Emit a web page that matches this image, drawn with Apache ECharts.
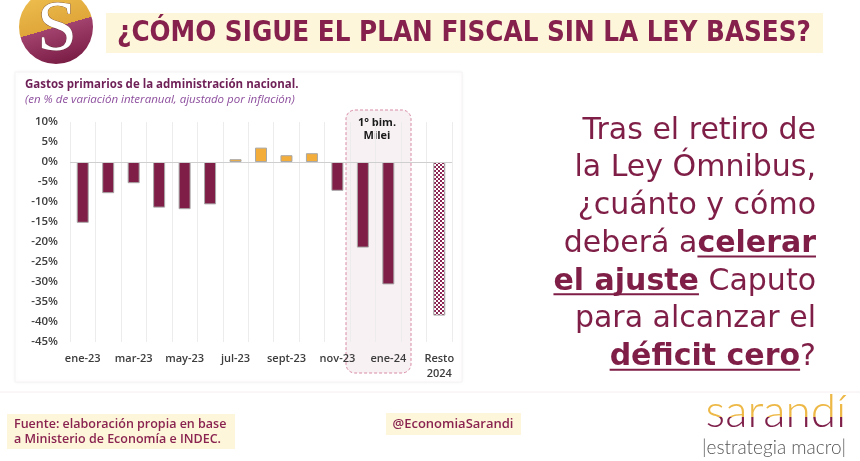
<!DOCTYPE html>
<html>
<head>
<meta charset="utf-8">
<script src="https://cdn.jsdelivr.net/npm/echarts@6/dist/echarts.min.js"></script>
<style>
  html, body { margin: 0; padding: 0; background: #fff; }
  #chart { width: 860px; height: 461px; }
</style>
</head>
<body>
<div id="chart"></div>
<script>
// datos
const categories = ['ene-23', 'feb-23', 'mar-23', 'abr-23', 'may-23', 'jun-23', 'jul-23', 'ago-23',
  'sept-23', 'oct-23', 'nov-23', 'dic-23', 'ene-24', '', 'Resto\n2024'];
const gasto = [-15.2, -7.8, -5.3, -11.4, -11.8, -10.6, 0.7, 3.6, 1.7, 2.2, -7.2, -21.4, -30.6, null, -38.4];
const projected = ['Resto\n2024'];
const yMin = -45;
const yMax = 10;
const yStep = 5;

const rightLines = [
  [['Tras el retiro de', false]],
  [['la Ley Ómnibus,', false]],
  [['¿cuánto y cómo', false]],
  [['deberá a', false], ['celerar', true]],
  [['el ajuste', true], [' Caputo', false]],
  [['para alcanzar el', false]],
  [['déficit cero', true], ['?', false]]
];

const WINE = '#7F1E46';
const ORANGE = '#F2AD3B';
const GOLD = '#EDB845';
const BEIGE = '#FDF6DA';

// trama cuadriculada para la proyeccion
const pat = document.createElement('canvas');
pat.width = 4; pat.height = 4;
const pctx = pat.getContext('2d');
pctx.fillStyle = '#fff';
pctx.fillRect(0, 0, 4, 4);
pctx.fillStyle = '#8C2652';
pctx.fillRect(0, 0, 2, 2);
pctx.fillRect(2, 2, 2, 2);

const chart = echarts.init(document.getElementById('chart'));

// texto de la derecha
const RFONT = '"DejaVu Sans"';
const RSIZE = 30;
const mctx = document.createElement('canvas').getContext('2d');
function tw(s, bold) {
  mctx.font = (bold ? 'bold ' : '') + RSIZE + 'px ' + RFONT;
  return mctx.measureText(s).width;
}
const rightX = 816;
const rightGraphics = [];
rightLines.forEach((segs, i) => {
  const y = 131 + i * 37.7;
  rightGraphics.push({
    type: 'text', x: rightX, y: y,
    style: {
      text: segs.map(s => '{' + (s[1] ? 'b' : 'n') + '|' + s[0] + '}').join(''),
      align: 'right', verticalAlign: 'middle',
      textAlign: 'right', textVerticalAlign: 'middle',
      rich: {
        n: { fontFamily: RFONT, fontSize: RSIZE, fill: WINE, fontWeight: 'normal' },
        b: { fontFamily: RFONT, fontSize: RSIZE, fill: WINE, fontWeight: 'bold' }
      }
    }
  });
  // subrayado de los tramos en negrita
  let end = rightX;
  for (let k = segs.length - 1; k >= 0; k--) {
    const w = tw(segs[k][0], segs[k][1]);
    if (segs[k][1]) {
      rightGraphics.push({
        type: 'line',
        shape: { x1: end - w, y1: y + 12.5, x2: end, y2: y + 12.5 },
        style: { stroke: WINE, lineWidth: 2 }
      });
    }
    end -= w;
  }
});

const option = {
  animation: false,
  grid: { left: 70, right: 408, top: 122, bottom: 119 },
  xAxis: {
    type: 'category',
    data: categories,
    axisLine: { show: false },
    axisTick: { show: false },
    axisLabel: {
      interval: 1,
      margin: 9,
      color: '#3c3c3c',
      fontFamily: 'Open Sans',
      fontWeight: 600,
      fontSize: 11,
      lineHeight: 15,
      verticalAlign: 'top'
    },
    splitLine: { show: true, interval: 0, lineStyle: { color: '#ececec', width: 1 } }
  },
  yAxis: {
    type: 'value',
    min: yMin, max: yMax, interval: yStep,
    axisLine: { show: false },
    axisTick: { show: false },
    splitLine: { show: false },
    axisLabel: {
      formatter: '{value}%',
      margin: 12,
      color: '#3c3c3c',
      fontFamily: 'Open Sans',
      fontWeight: 600,
      fontSize: 11.5
    }
  },
  series: [{
    type: 'bar',
    data: gasto,
    barWidth: 12,
    itemStyle: {
      borderColor: '#a8a8a8',
      borderWidth: 1,
      color: p => projected.includes(categories[p.dataIndex])
        ? { image: pat, repeat: 'repeat' }
        : (p.value > 0 ? ORANGE : WINE)
    },
    markLine: {
      silent: true,
      symbol: 'none',
      label: { show: false },
      lineStyle: { color: '#cfcfcf', type: 'solid', width: 1 },
      data: [{ yAxis: 0 }]
    }
  }],
  graphic: [
    // tarjeta del grafico
    {
      type: 'rect', z: -3,
      shape: { x: 15, y: 72, width: 447, height: 310 },
      style: { fill: '#fff', stroke: '#f6f3f3', lineWidth: 1, shadowBlur: 4, shadowColor: 'rgba(0,0,0,0.05)' }
    },
    // recuadro 1 bimestre Milei
    {
      type: 'rect', z: -1,
      shape: { x: 346, y: 110, width: 65, height: 263, r: 9 },
      style: { fill: '#F8F1F3', stroke: '#D88AA6', lineWidth: 1, lineDash: [3, 2] }
    },
    {
      type: 'text', x: 377, y: 116,
      style: { text: '1° bim.\nMilei', fill: '#1a1a1a', fontFamily: 'Open Sans', fontWeight: 'bold', fontSize: 11, lineHeight: 13,
        align: 'center', textAlign: 'center', verticalAlign: 'top', textVerticalAlign: 'top' }
    },
    // subtitulos
    {
      type: 'text', x: 25, y: 85,
      style: { text: 'Gastos primarios de la administración nacional.', fill: '#6E1F56', fontFamily: 'Open Sans',
        fontWeight: 'bold', fontSize: 11.5, verticalAlign: 'middle', textVerticalAlign: 'middle' }
    },
    {
      type: 'text', x: 25, y: 100,
      style: { text: '(en % de variación interanual, ajustado por inflación)', fill: '#8D4E9E', fontFamily: 'Open Sans',
        fontStyle: 'italic', fontSize: 11.5, verticalAlign: 'middle', textVerticalAlign: 'middle' }
    },
    // titulo
    {
      type: 'rect',
      shape: { x: 106, y: 13, width: 717, height: 40 },
      style: { fill: BEIGE }
    },
    {
      type: 'text', x: 464, y: 34,
      style: { text: '¿CÓMO SIGUE EL PLAN FISCAL SIN LA LEY BASES?', fill: '#86204C',
        fontFamily: '"Liberation Sans Narrow", "DejaVu Sans Condensed", sans-serif', fontSize: 27.5, fontWeight: 'bold',
        align: 'center', textAlign: 'center', verticalAlign: 'middle', textVerticalAlign: 'middle' }
    },
    // logo S
    {
      type: 'circle',
      shape: { cx: 56, cy: 27, r: 37 },
      style: {
        fill: new echarts.graphic.LinearGradient(0.36, 0.02, 0.64, 0.98, [
          { offset: 0, color: '#EDBE4E' },
          { offset: 0.5, color: '#E0A63A' },
          { offset: 0.5, color: '#A2426E' },
          { offset: 1, color: '#7A1D45' }
        ])
      }
    },
    {
      type: 'text', x: 57, y: 31,
      style: { text: 'S', fill: '#fff', stroke: '#5a3030', lineWidth: 0.6, fontFamily: '"Liberation Serif", serif',
        fontSize: 72, align: 'center', textAlign: 'center', verticalAlign: 'middle', textVerticalAlign: 'middle' }
    },
    // pie
    {
      type: 'line',
      shape: { x1: 0, y1: 392, x2: 860, y2: 392 },
      style: { stroke: '#f6eef0', lineWidth: 1 }
    },
    {
      type: 'rect',
      shape: { x: 7, y: 414, width: 228, height: 35 },
      style: { fill: BEIGE }
    },
    {
      type: 'text', x: 14, y: 432,
      style: { text: 'Fuente: elaboración propia en base\na Ministerio de Economía e INDEC.', fill: '#8A2350',
        fontFamily: 'Open Sans', fontWeight: 600, fontSize: 12.5, lineHeight: 14.5,
        verticalAlign: 'middle', textVerticalAlign: 'middle' }
    },
    {
      type: 'rect',
      shape: { x: 386, y: 413, width: 135, height: 22 },
      style: { fill: BEIGE }
    },
    {
      type: 'text', x: 453, y: 424,
      style: { text: '@EconomiaSarandi', fill: '#8A2350', fontFamily: 'Open Sans', fontWeight: 600, fontSize: 13,
        align: 'center', textAlign: 'center', verticalAlign: 'middle', textVerticalAlign: 'middle' }
    },
    {
      type: 'text', x: 774, y: 448,
      style: { text: '|estrategia macro|', fill: '#555', fontFamily: 'Lato', fontWeight: 300, fontSize: 19,
        align: 'center', textAlign: 'center', verticalAlign: 'middle', textVerticalAlign: 'middle' }
    }
  ].concat(rightGraphics)
};

chart.setOption(option);

// logo "sarandí": mitad superior dorada, inferior bordó
const zr = chart.getZr();
function logoPart(color, clipY, clipH) {
  const t = new echarts.graphic.Text({
    z: 10,
    style: { text: 'sarandí', x: 776, y: 412, fill: color, fontFamily: 'Lato', fontWeight: 300, fontSize: 46,
      align: 'center', verticalAlign: 'middle' }
  });
  t.setClipPath(new echarts.graphic.Rect({ shape: { x: 680, y: clipY, width: 180, height: clipH } }));
  zr.add(t);
}
logoPart(GOLD, 380, 37);
logoPart('#7E1F4A', 417, 20);

window.addEventListener('resize', () => chart.resize());
</script>
</body>
</html>
